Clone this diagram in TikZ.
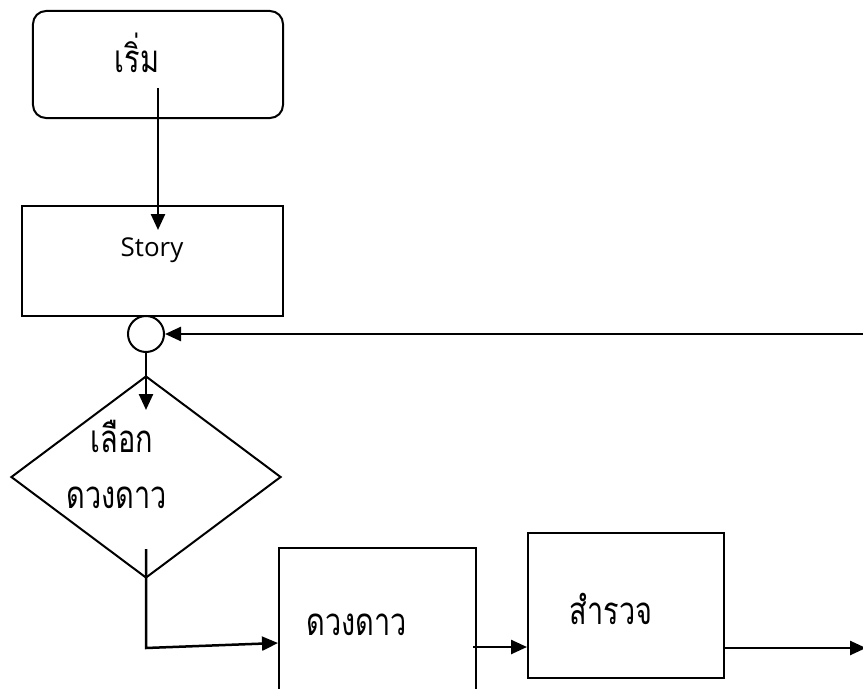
\documentclass[tikz,border=0pt]{standalone}
\usepackage{fontspec}
\setmainfont{Open Sans}
\newfontfamily\thaifont[Script=Thai]{Loma}
\usetikzlibrary{shapes}
\usetikzlibrary{shapes.geometric}
\usetikzlibrary{arrows.meta}
\newcommand{\thaitext}[1]{\scalebox{1}[1.33]{#1}}

\begin{document}
\begin{tikzpicture}[x=1bp, y=-1bp,
    box/.style = {draw, line width=2bp, inner sep=0pt},
    thai/.style = {font=\thaifont\fontsize{29}{30}\selectfont, inner sep=0pt},
    flow/.style = {line width=2.5bp, -{Triangle[length=16bp,width=14bp]}}]
     \useasboundingbox (0,0) rectangle (863,689);
     \clip (0,0) rectangle (863,689);

     \node[box, rounded corners=13bp, minimum width=250bp, minimum height=107bp] (start) at (158,64.5) {};
     \node[thai] (starttxt) at (137,53) {\thaitext{เริ่ม}};
     \node[box, minimum width=261bp, minimum height=110bp] (story) at (152.5,261) {};
     \node[font=\fontsize{26}{30}\selectfont, inner sep=0pt] (storytxt) at (152,250) {Story};
     \node[box, circle, minimum size=36bp] (join) at (146,334) {};
     \node[box, diamond, minimum width=270bp, minimum height=202bp] (choose) at (146,477) {};
     \node[thai] (choosetxt1) at (122,436) {\thaitext{เลือก}};
     \node[thai] (choosetxt2) at (117,498) {\thaitext{ดวงดาว}};
     \node[box, minimum width=197bp, minimum height=180bp] (planet) at (377.5,638) {};
     \node[thai] (planettxt) at (357,625) {\thaitext{ดวงดาว}};
     \node[box, minimum width=196bp, minimum height=145bp] (explore) at (626,605.5) {};
     \node[thai] (exploretxt) at (611,609) {\thaitext{สำรวจ}};

     \coordinate (startout) at (158,88);
     \coordinate (storyin) at (158,230);
     \coordinate (back) at (863,334);
     \coordinate (choosein) at (146,410);
     \coordinate (chooseout) at (146,549);
     \coordinate (bend) at (146,648);
     \coordinate (planetout) at (473,647);
     \coordinate (exit) at (866,648);

     \draw[flow] (startout) -- (storyin);
     \draw[flow] (back) -- (join.east);
     \draw[flow] (join.south) -- (choosein);
     \draw[flow] (chooseout) -- (bend) -- (planet.west |- 0,643);
     \draw[flow] (planetout) -- (planetout -| explore.west);
     \draw[flow] (explore.east |- exit) -- (exit);
 \end{tikzpicture}
\end{document}
